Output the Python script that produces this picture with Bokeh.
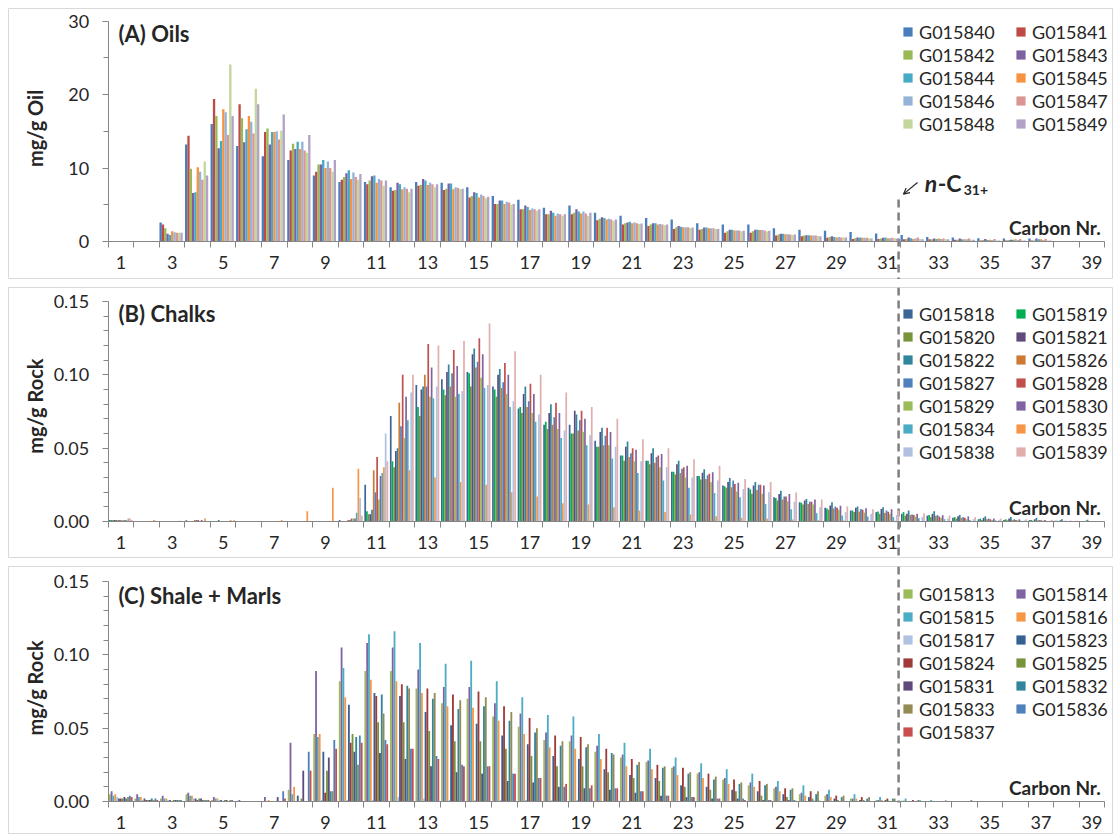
import numpy as np
from bokeh.plotting import figure
from bokeh.models import (ColumnDataSource, FixedTicker, LinearAxis, Legend, LegendItem,
                          Label, Arrow, OpenHead, PrintfTickFormatter, Range1d)
from bokeh.layouts import column
from bokeh.embed import file_html
from bokeh.resources import INLINE

FONT = "Lato"
TXT = "#262626"
AXC = "#868686"
BORDER = "#D9D9D9"

carbon_numbers = list(range(1, 40))
x_tick_values = list(range(1, 40, 2))
category_edges = [c + 0.5 for c in range(0, 40)]

# ---------------- (A) Oils : mg/g Oil ----------------
oil_samples = ["G015840", "G015841", "G015842", "G015843", "G015844",
               "G015845", "G015846", "G015847", "G015848", "G015849"]
oil_colors = ["#4A7EBB", "#BE4B48", "#98B954", "#7D60A0", "#46AAC5",
              "#F69240", "#95B3D7", "#D99694", "#C3D69B", "#B3A2C7"]
oil_G015840 = [0, 0, 2.6, 13.2, 16.0, 13.0, 11.6, 11.1, 9.0, 8.1, 8.1, 7.4, 8.1, 8.0, 7.4, 6.2, 5.7, 4.6, 4.9, 3.9, 3.5, 3.2, 3.0, 2.5, 2.3, 2.3, 1.8, 1.6, 1.45, 1.3, 1.1, 0.9, 0.6, 0.55, 0.45, 0.4, 0.4, 0, 0]
oil_G015841 = [0, 0, 2.3, 14.4, 19.4, 18.7, 14.9, 12.4, 9.5, 8.4, 7.8, 6.9, 7.6, 7.0, 6.0, 5.1, 4.4, 3.7, 3.7, 2.9, 2.3, 2.1, 1.7, 1.6, 1.2, 1.2, 0.8, 0.7, 0.5, 0.35, 0.35, 0.3, 0.3, 0.25, 0.15, 0.15, 0.15, 0, 0]
oil_G015842 = [0, 0, 1.8, 9.9, 17.1, 16.8, 15.4, 13.3, 10.5, 8.8, 8.3, 7.0, 7.7, 7.2, 6.2, 5.1, 4.4, 3.7, 3.9, 3.1, 2.5, 2.3, 1.95, 1.7, 1.4, 1.4, 0.95, 0.8, 0.6, 0.45, 0.4, 0.35, 0.3, 0.25, 0.2, 0.2, 0.15, 0, 0]
oil_G015843 = [0, 0, 1.05, 6.6, 12.7, 13.5, 13.2, 12.6, 10.5, 9.3, 8.9, 8.0, 8.5, 7.9, 6.7, 5.6, 4.9, 4.2, 4.4, 3.3, 2.6, 2.5, 2.1, 1.9, 1.6, 1.6, 1.05, 0.85, 0.7, 0.55, 0.5, 0.55, 0.4, 0.4, 0.35, 0.25, 0.4, 0, 0]
oil_G015844 = [0, 0, 0.9, 6.7, 13.7, 15.3, 14.9, 13.6, 11.1, 9.7, 9.0, 7.8, 8.3, 7.9, 6.6, 5.6, 4.7, 3.9, 4.1, 3.2, 2.7, 2.5, 2.0, 1.9, 1.6, 1.6, 1.05, 0.85, 0.6, 0.55, 0.55, 0.45, 0.35, 0.3, 0.2, 0.25, 0.3, 0, 0]
oil_G015845 = [0, 0, 1.4, 10.1, 18.0, 17.1, 14.9, 12.6, 10.0, 8.5, 8.0, 7.1, 7.7, 7.1, 6.0, 5.1, 4.3, 3.5, 3.8, 3.0, 2.5, 2.3, 1.95, 1.8, 1.5, 1.55, 1.0, 0.8, 0.55, 0.5, 0.45, 0.35, 0.4, 0.3, 0.25, 0.3, 0.3, 0, 0]
oil_G015846 = [0, 0, 1.25, 9.5, 17.6, 16.3, 15.0, 13.6, 10.9, 9.4, 8.5, 7.4, 8.0, 7.4, 6.4, 5.4, 4.5, 3.8, 4.1, 3.1, 2.6, 2.4, 1.95, 1.8, 1.5, 1.55, 1.0, 0.8, 0.6, 0.5, 0.45, 0.4, 0.35, 0.3, 0.2, 0.2, 0.2, 0, 0]
oil_G015847 = [0, 0, 1.2, 8.4, 14.5, 14.7, 13.9, 12.4, 10.0, 8.8, 8.3, 7.2, 7.8, 7.3, 6.2, 5.3, 4.4, 3.7, 3.8, 3.0, 2.5, 2.3, 1.95, 1.8, 1.5, 1.5, 0.95, 0.8, 0.55, 0.5, 0.5, 0.55, 0.4, 0.4, 0.35, 0.35, 0.35, 0, 0]
oil_G015848 = [0, 0, 1.2, 10.9, 24.1, 20.8, 15.1, 12.1, 9.5, 8.4, 7.6, 6.7, 7.4, 7.1, 5.9, 5.0, 4.2, 3.5, 3.5, 2.8, 2.4, 2.2, 1.85, 1.7, 1.4, 1.35, 0.9, 0.75, 0.55, 0.45, 0.45, 0.35, 0.3, 0.25, 0.15, 0.15, 0.15, 0, 0]
oil_G015849 = [0, 0, 1.2, 9.0, 17.1, 18.7, 17.3, 14.5, 11.1, 9.2, 8.3, 7.2, 7.8, 7.2, 6.1, 5.1, 4.4, 3.7, 3.9, 3.0, 2.45, 2.3, 1.9, 1.7, 1.45, 1.45, 0.95, 0.7, 0.55, 0.4, 0.4, 0.3, 0.3, 0.25, 0.15, 0.15, 0.15, 0, 0]
oil_values = [oil_G015840, oil_G015841, oil_G015842, oil_G015843, oil_G015844,
              oil_G015845, oil_G015846, oil_G015847, oil_G015848, oil_G015849]

# ---------------- (B) Chalks : mg/g Rock ----------------
chalk_samples = ["G015818", "G015819", "G015820", "G015821", "G015822", "G015826", "G015827",
                 "G015828", "G015829", "G015830", "G015834", "G015835", "G015838", "G015839"]
chalk_colors = ["#3D6696", "#00B050", "#77933C", "#604A7B", "#31859C", "#CC7A35", "#4F81BD",
                "#C0504D", "#9BBB59", "#8064A2", "#4BACC6", "#F79646", "#AFC0E0", "#E0AEAD"]
chalk_G015818 = [0.001, 0, 0, 0.0008, 0, 0, 0, 0, 0, 0.001, 0.025, 0.072, 0.093, 0.097, 0.102, 0.092, 0.077, 0.066, 0.066, 0.055, 0.045, 0.0415, 0.034, 0.031, 0.0245, 0.023, 0.0166, 0.0132, 0.0093, 0.0075, 0.0064, 0.0052, 0.004, 0.0025, 0.0015, 0.001, 0.001, 0.0005, 0]
chalk_G015819 = [0.001, 0, 0, 0, 0, 0, 0, 0, 0, 0, 0.007, 0.041, 0.078, 0.090, 0.101, 0.090, 0.078, 0.068, 0.060, 0.051, 0.045, 0.0415, 0.034, 0.031, 0.024, 0.022, 0.016, 0.0127, 0.0089, 0.0075, 0.0068, 0.0064, 0.0045, 0.003, 0.002, 0.0015, 0.001, 0.0005, 0]
chalk_G015820 = [0.001, 0, 0, 0, 0, 0, 0, 0, 0, 0, 0.005, 0.037, 0.072, 0.086, 0.092, 0.085, 0.074, 0.063, 0.060, 0.051, 0.0415, 0.039, 0.032, 0.0286, 0.023, 0.019, 0.0143, 0.0116, 0.008, 0.0064, 0.0052, 0.004, 0.003, 0.002, 0.001, 0.0008, 0.0005, 0, 0]
chalk_G015821 = [0.001, 0, 0, 0, 0, 0, 0, 0, 0, 0, 0.005, 0.048, 0.090, 0.102, 0.114, 0.100, 0.087, 0.074, 0.0755, 0.061, 0.051, 0.0465, 0.039, 0.0333, 0.027, 0.0245, 0.0188, 0.0143, 0.0109, 0.0093, 0.0086, 0.0052, 0.0052, 0.0035, 0.0025, 0.002, 0.0015, 0.0008, 0.0005]
chalk_G015822 = [0.001, 0, 0, 0, 0.001, 0, 0, 0, 0, 0, 0.008, 0.050, 0.092, 0.107, 0.118, 0.104, 0.092, 0.080, 0.073, 0.064, 0.0545, 0.050, 0.0415, 0.0356, 0.0297, 0.027, 0.021, 0.0154, 0.0132, 0.0102, 0.0098, 0.0075, 0.007, 0.0045, 0.0035, 0.003, 0.0025, 0.0015, 0.0012]
chalk_G015826 = [0.001, 0, 0, 0.001, 0, 0, 0, 0, 0, 0.001, 0.035, 0.081, 0.100, 0.092, 0.105, 0.091, 0.078, 0.066, 0.062, 0.052, 0.044, 0.040, 0.033, 0.029, 0.0234, 0.0215, 0.015, 0.012, 0.0089, 0.0068, 0.0059, 0.0045, 0.0039, 0.0025, 0.0015, 0.001, 0.0008, 0, 0]
chalk_G015827 = [0.001, 0, 0, 0.001, 0, 0, 0, 0, 0, 0.001, 0.020, 0.065, 0.092, 0.101, 0.109, 0.095, 0.082, 0.071, 0.069, 0.0585, 0.0465, 0.044, 0.036, 0.0315, 0.028, 0.025, 0.017, 0.0134, 0.0102, 0.0086, 0.0075, 0.0048, 0.0043, 0.003, 0.002, 0.0015, 0.001, 0.0005, 0]
chalk_G015828 = [0.0008, 0, 0, 0.001, 0, 0, 0, 0, 0, 0.002, 0.044, 0.100, 0.121, 0.117, 0.125, 0.108, 0.094, 0.081, 0.0755, 0.064, 0.050, 0.045, 0.037, 0.0325, 0.0256, 0.025, 0.017, 0.0134, 0.0093, 0.008, 0.0066, 0.0045, 0.0034, 0.0025, 0.0015, 0.001, 0.0008, 0, 0]
chalk_G015829 = [0.001, 0, 0, 0, 0, 0, 0, 0, 0, 0.002, 0.015, 0.057, 0.085, 0.085, 0.098, 0.087, 0.074, 0.063, 0.061, 0.052, 0.041, 0.037, 0.030, 0.0268, 0.0204, 0.019, 0.0138, 0.0116, 0.008, 0.0061, 0.0052, 0.0034, 0.0025, 0.0015, 0.001, 0.0008, 0.0005, 0, 0]
chalk_G015830 = [0.001, 0, 0, 0.001, 0, 0, 0, 0, 0, 0.002, 0.031, 0.085, 0.105, 0.106, 0.114, 0.100, 0.087, 0.074, 0.070, 0.061, 0.049, 0.046, 0.038, 0.0336, 0.0265, 0.0245, 0.0188, 0.015, 0.0107, 0.0091, 0.0084, 0.0052, 0.0043, 0.0035, 0.002, 0.0015, 0.001, 0.0005, 0]
chalk_G015834 = [0.0008, 0, 0, 0, 0, 0, 0, 0, 0, 0.006, 0.033, 0.069, 0.084, 0.087, 0.091, 0.078, 0.068, 0.057, 0.052, 0.043, 0.033, 0.028, 0.023, 0.0195, 0.0166, 0.012, 0.0084, 0.0057, 0.004, 0.0034, 0.003, 0.0023, 0.0016, 0.001, 0.0008, 0.0005, 0.0004, 0, 0]
chalk_G015835 = [0.002, 0.001, 0.0005, 0.002, 0.001, 0, 0.001, 0.007, 0.023, 0.036, 0.037, 0.035, 0.030, 0.027, 0.025, 0.020, 0.017, 0.0125, 0.0116, 0.0098, 0.0075, 0.0064, 0.0048, 0.0036, 0.0025, 0.002, 0.0014, 0.001, 0.0007, 0.0005, 0.0005, 0.0002, 0.0002, 0, 0, 0, 0, 0, 0]
chalk_G015838 = [0.002, 0.0005, 0, 0, 0, 0, 0, 0, 0, 0.016, 0.060, 0.088, 0.092, 0.089, 0.093, 0.082, 0.073, 0.062, 0.059, 0.051, 0.041, 0.037, 0.030, 0.028, 0.0222, 0.020, 0.0136, 0.0098, 0.0064, 0.0052, 0.0043, 0.003, 0.002, 0.0015, 0.001, 0.0008, 0.0005, 0, 0]
chalk_G015839 = [0.001, 0, 0, 0, 0.001, 0, 0, 0, 0, 0.004, 0.041, 0.100, 0.120, 0.123, 0.135, 0.116, 0.100, 0.088, 0.078, 0.070, 0.056, 0.050, 0.0425, 0.038, 0.029, 0.027, 0.0197, 0.015, 0.0102, 0.0084, 0.0075, 0.0057, 0.004, 0.003, 0.002, 0.0015, 0.001, 0.0005, 0]
chalk_values = [chalk_G015818, chalk_G015819, chalk_G015820, chalk_G015821, chalk_G015822,
                chalk_G015826, chalk_G015827, chalk_G015828, chalk_G015829, chalk_G015830,
                chalk_G015834, chalk_G015835, chalk_G015838, chalk_G015839]

# ---------------- (C) Shale + Marls : mg/g Rock ----------------
shale_samples = ["G015813", "G015814", "G015815", "G015816", "G015817", "G015823", "G015824",
                 "G015825", "G015831", "G015832", "G015833", "G015836", "G015837"]
shale_colors = ["#9BBB59", "#8064A2", "#4BACC6", "#F79646", "#B0C2E2", "#376092", "#9E3A38",
                "#77933C", "#604A7B", "#31859C", "#948A54", "#4F81BD", "#C84F4F"]
shale_G015813 = [0.005, 0.002, 0.002, 0.005, 0.001, 0.0005, 0, 0.008, 0.046, 0.082, 0.089, 0.089, 0.077, 0.067, 0.070, 0.058, 0.051, 0.042, 0.041, 0.034, 0.030, 0.027, 0.023, 0.019, 0.015, 0.011, 0.009, 0.005, 0.004, 0.002, 0.001, 0.0005, 0, 0, 0, 0, 0, 0, 0]
shale_G015814 = [0.007, 0.005, 0.004, 0.006, 0.003, 0.001, 0.003, 0.040, 0.089, 0.105, 0.108, 0.105, 0.090, 0.078, 0.078, 0.067, 0.060, 0.047, 0.045, 0.038, 0.032, 0.028, 0.024, 0.020, 0.016, 0.013, 0.010, 0.006, 0.005, 0.002, 0.001, 0.0005, 0, 0, 0, 0, 0, 0, 0]
shale_G015815 = [0.004, 0.003, 0.002, 0.004, 0.002, 0, 0, 0.005, 0.044, 0.091, 0.114, 0.116, 0.108, 0.094, 0.096, 0.082, 0.071, 0.059, 0.058, 0.046, 0.040, 0.036, 0.030, 0.026, 0.022, 0.019, 0.014, 0.011, 0.008, 0.005, 0.003, 0.002, 0.001, 0, 0, 0, 0, 0, 0]
shale_G015816 = [0.005, 0.003, 0.002, 0.004, 0.002, 0, 0.001, 0.010, 0.046, 0.071, 0.083, 0.082, 0.074, 0.065, 0.064, 0.055, 0.046, 0.037, 0.036, 0.029, 0.024, 0.022, 0.018, 0.016, 0.012, 0.010, 0.007, 0.004, 0.003, 0.002, 0.001, 0, 0, 0, 0, 0, 0, 0, 0]
shale_G015817 = [0.003, 0.001, 0.001, 0.002, 0.001, 0, 0, 0, 0.001, 0.001, 0.001, 0.003, 0.002, 0.001, 0.001, 0.001, 0.001, 0.001, 0.001, 0, 0, 0, 0, 0, 0, 0, 0, 0, 0, 0, 0, 0, 0, 0, 0, 0, 0, 0, 0]
shale_G015823 = [0.002, 0.002, 0.001, 0.002, 0.001, 0, 0, 0.004, 0.034, 0.066, 0.074, 0.072, 0.061, 0.052, 0.053, 0.045, 0.039, 0.031, 0.029, 0.022, 0.018, 0.016, 0.011, 0.010, 0.008, 0.007, 0.005, 0.003, 0.002, 0.001, 0.001, 0, 0, 0, 0, 0, 0, 0, 0]
shale_G015824 = [0.002, 0.001, 0, 0.001, 0, 0, 0, 0, 0.006, 0.040, 0.072, 0.080, 0.077, 0.073, 0.075, 0.065, 0.057, 0.045, 0.044, 0.036, 0.029, 0.025, 0.023, 0.019, 0.015, 0.014, 0.009, 0.007, 0.004, 0.003, 0.002, 0.001, 0, 0, 0, 0, 0, 0, 0]
shale_G015825 = [0.002, 0.001, 0.001, 0.002, 0.001, 0, 0, 0.002, 0.021, 0.046, 0.054, 0.054, 0.048, 0.041, 0.041, 0.036, 0.031, 0.024, 0.024, 0.020, 0.016, 0.014, 0.010, 0.008, 0.007, 0.004, 0.003, 0.002, 0.001, 0.001, 0.0005, 0, 0, 0, 0, 0, 0, 0, 0]
shale_G015831 = [0.003, 0.001, 0.001, 0.002, 0.001, 0, 0.003, 0.021, 0.030, 0.034, 0.033, 0.029, 0.024, 0.020, 0.019, 0.014, 0.013, 0.010, 0.009, 0.008, 0.006, 0.004, 0.003, 0.002, 0.002, 0.001, 0.001, 0.0005, 0, 0, 0, 0, 0, 0, 0, 0, 0, 0, 0]
shale_G015832 = [0.002, 0.002, 0.001, 0.001, 0, 0, 0, 0, 0.007, 0.044, 0.073, 0.079, 0.070, 0.063, 0.065, 0.055, 0.047, 0.038, 0.037, 0.033, 0.025, 0.023, 0.019, 0.015, 0.012, 0.011, 0.008, 0.005, 0.003, 0.002, 0.002, 0.001, 0, 0, 0, 0, 0, 0, 0]
shale_G015833 = [0.003, 0.001, 0.001, 0.001, 0.001, 0, 0, 0, 0.007, 0.025, 0.060, 0.077, 0.074, 0.069, 0.071, 0.061, 0.050, 0.041, 0.039, 0.032, 0.027, 0.024, 0.020, 0.017, 0.013, 0.012, 0.009, 0.007, 0.004, 0.003, 0.002, 0.0008, 0.0008, 0.001, 0, 0, 0, 0, 0]
shale_G015836 = [0.004, 0.002, 0.001, 0.001, 0.001, 0, 0.007, 0.034, 0.042, 0.045, 0.042, 0.036, 0.031, 0.025, 0.024, 0.019, 0.016, 0.010, 0.009, 0.009, 0.007, 0.004, 0.003, 0.002, 0.002, 0.001, 0.001, 0.0005, 0, 0, 0, 0, 0, 0, 0, 0, 0, 0, 0]
shale_G015837 = [0.003, 0.001, 0, 0.001, 0, 0, 0.002, 0.021, 0.036, 0.040, 0.039, 0.036, 0.029, 0.024, 0.024, 0.019, 0.016, 0.012, 0.011, 0.009, 0.007, 0.004, 0.003, 0.002, 0.001, 0.001, 0.0005, 0, 0, 0, 0, 0, 0, 0, 0, 0, 0, 0, 0]
shale_values = [shale_G015813, shale_G015814, shale_G015815, shale_G015816, shale_G015817,
                shale_G015823, shale_G015824, shale_G015825, shale_G015831, shale_G015832,
                shale_G015833, shale_G015836, shale_G015837]

# ---------------- layout constants ----------------
PANEL_W = 1105
X0, X1 = -3.402, 39.84
DASH_X = 31.43
NAN = float("nan")


def make_panel(height, y0, y1, y_major, y_minor, fmt, samples, colors, values, shift,
               title, title_y, ylab, ylab_y, carbon_y, legend_loc, dash_top, dash_bottom):
    p = figure(width=PANEL_W, height=height, x_range=Range1d(X0, X1), y_range=Range1d(y0, y1),
               x_axis_type=None, y_axis_type=None, output_backend="svg",
               toolbar_location=None, min_border=0)
    p.outline_line_color = BORDER
    p.outline_line_width = 1
    p.background_fill_color = "white"
    p.border_fill_color = "white"

    # dashed n-C31+ divider
    p.segment(x0=[DASH_X], y0=[dash_top], x1=[DASH_X], y1=[dash_bottom],
              line_color="#7F7F7F", line_width=2.5, line_dash="8 5")

    n = len(samples)
    bw = 1.0 / (n + 1)
    items = []
    for i, (name, col, vals) in enumerate(zip(samples, colors, values)):
        assert len(vals) == len(carbon_numbers), (name, len(vals))
        off = -0.5 * n * bw + (i + 0.5) * bw - shift
        src = ColumnDataSource(dict(x=[c + off for c in carbon_numbers], top=vals))
        p.vbar(x="x", top="top", bottom=0, width=bw, source=src,
               fill_color=col, line_color=None)
        # square legend swatch (no visible point: NaN coordinates)
        sw = p.scatter(x=[NAN], y=[NAN], marker="square", size=10,
                       fill_color=col, line_color=None)
        items.append(LegendItem(label=name, renderers=[sw]))

    leg = Legend(items=items, location=legend_loc, orientation="horizontal", ncols=2,
                 glyph_width=23, glyph_height=23, label_height=23, label_width=90,
                 label_standoff=0, spacing=0, padding=0, margin=0,
                 border_line_color=None, background_fill_alpha=0,
                 label_text_font=FONT, label_text_font_size="18px", label_text_color=TXT)
    p.add_layout(leg)

    yax = LinearAxis(fixed_location=0.5, bounds=(0, y_major[-1]),
                     ticker=FixedTicker(ticks=y_major, minor_ticks=y_minor),
                     axis_line_color=AXC, major_tick_line_color=AXC, minor_tick_line_color=AXC,
                     major_tick_in=0, major_tick_out=6, minor_tick_in=0, minor_tick_out=5,
                     major_label_standoff=13, major_label_text_font=FONT,
                     major_label_text_font_size="18px", major_label_text_color=TXT)
    if fmt:
        yax.formatter = PrintfTickFormatter(format=fmt)
    p.add_layout(yax, "left")

    xax = LinearAxis(fixed_location=0, bounds=(0.5, 39.5),
                     ticker=FixedTicker(ticks=x_tick_values, minor_ticks=category_edges),
                     axis_line_color=AXC, major_tick_line_color=None, minor_tick_line_color=AXC,
                     major_tick_in=0, major_tick_out=0, minor_tick_in=0, minor_tick_out=6,
                     major_label_standoff=9, major_label_text_font=FONT,
                     major_label_text_font_size="18px", major_label_text_color=TXT)
    p.add_layout(xax, "below")

    p.add_layout(Label(x=0.903, y=title_y, text=title, text_font=FONT, text_font_style="bold",
                       text_font_size="22px", text_color=TXT, text_baseline="middle"))
    p.add_layout(Label(x=-2.35, y=ylab_y, text=ylab, angle=np.pi / 2, text_align="center",
                       text_baseline="middle", text_font=FONT, text_font_style="bold",
                       text_font_size="20px", text_color=TXT))
    p.add_layout(Label(x=39.34, y=carbon_y, text="Carbon Nr.", text_align="right",
                       text_baseline="middle", text_font=FONT, text_font_style="bold",
                       text_font_size="19px", text_color=TXT))
    return p


pA = make_panel(271, -5.175, 31.73, [0, 10, 20, 30], [5, 15, 25], None,
                oil_samples, oil_colors, oil_values, 0.04,
                "(A) Oils", 28.3, "mg/g Oil", 15.39, 1.91, (888, 144), 5.72, -5.175)

b_minor = [0.01, 0.02, 0.03, 0.04, 0.06, 0.07, 0.08, 0.09, 0.11, 0.12, 0.13, 0.14]
pB = make_panel(271, -0.025227, 0.15954, [0, 0.05, 0.10, 0.15], b_minor, "%.2f",
                chalk_samples, chalk_colors, chalk_values, 0.01,
                "(B) Chalks", 0.1418, "mg/g Rock", 0.0787, 0.00955, (888, 95),
                0.15954, -0.025227)

pC = make_panel(268, -0.0225, 0.16022, [0, 0.05, 0.10, 0.15], b_minor, "%.2f",
                shale_samples, shale_colors, shale_values, 0.01,
                "(C) Shale + Marls", 0.1405, "mg/g Rock", 0.0774, 0.00955, (888, 91),
                0.16022, -0.0007)

# n-C31+ annotation in panel A
pA.add_layout(Label(x=32.45, y=7.9, text="n", text_font=FONT, text_font_style="bold italic",
                    text_font_size="23px", text_color=TXT, text_baseline="middle"))
pA.add_layout(Label(x=32.96, y=7.9, text="-C", text_font=FONT, text_font_style="bold",
                    text_font_size="23px", text_color=TXT, text_baseline="middle"))
pA.add_layout(Label(x=33.98, y=7.0, text="31+", text_font=FONT, text_font_style="bold",
                    text_font_size="14px", text_color=TXT, text_baseline="middle"))
pA.add_layout(Arrow(x_start=32.17, y_start=8.03, x_end=31.62, y_end=6.45,
                    line_color=TXT, line_width=1.2,
                    end=OpenHead(size=6, line_color=TXT, line_width=1.2)))

layout = column(pA, pB, pC, spacing=8, margin=(8, 0, 0, 8))

open("out.html", "w").write(file_html(layout, INLINE))
